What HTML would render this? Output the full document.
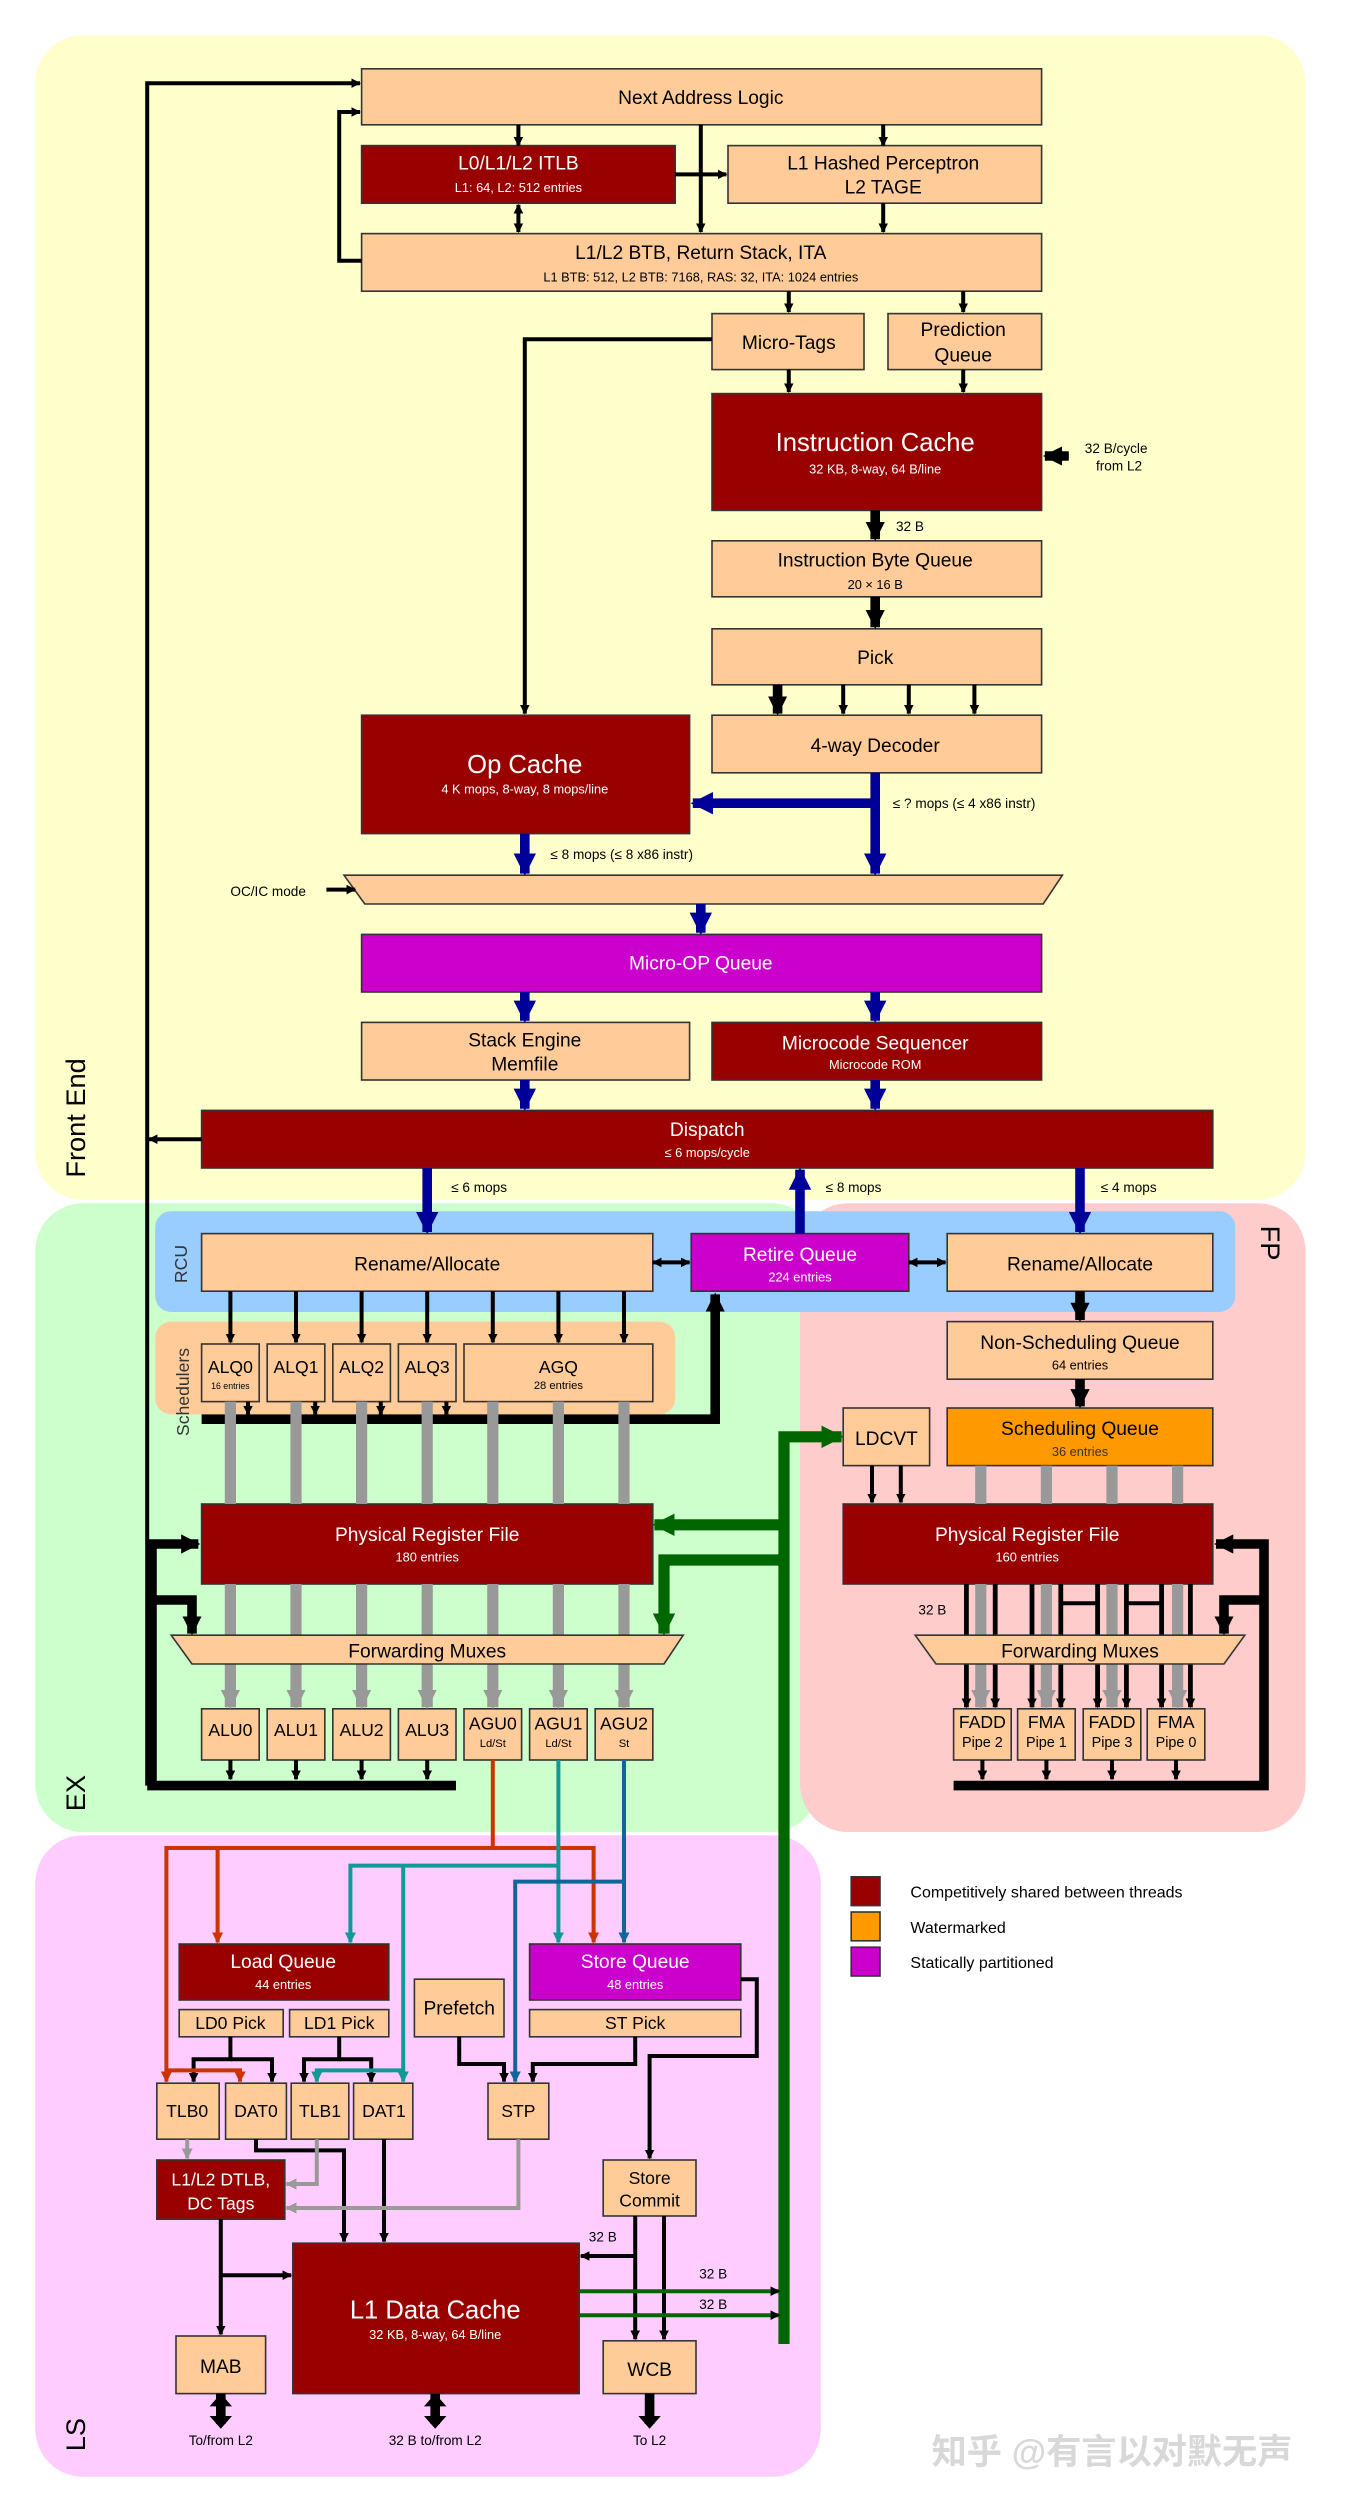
<!DOCTYPE html>
<html><head><meta charset="utf-8"><style>
html,body{margin:0;padding:0;background:#fff}
svg{display:block}
text{font-family:"Liberation Sans","Noto Sans CJK SC",sans-serif;text-anchor:middle}
</style></head><body>
<svg width="1350" height="2506" viewBox="0 0 843.75 1566.25" xmlns="http://www.w3.org/2000/svg">
<defs>
<marker id="a" viewBox="0 0 10 10" refX="9" refY="5" markerWidth="6" markerHeight="6" markerUnits="userSpaceOnUse" orient="auto-start-reverse"><path d="M0 0L10 5L0 10z" fill="#000"/></marker>
<marker id="A" viewBox="0 0 10 10" refX="9" refY="5" markerWidth="12" markerHeight="12" markerUnits="userSpaceOnUse" orient="auto-start-reverse"><path d="M0 0L10 5L0 10z" fill="#000"/></marker>
<marker id="B" viewBox="0 0 10 10" refX="9" refY="5" markerWidth="14" markerHeight="14" markerUnits="userSpaceOnUse" orient="auto"><path d="M0 0L10 5L0 10z" fill="#000099"/></marker>
<marker id="G" viewBox="0 0 10 10" refX="9" refY="5" markerWidth="14" markerHeight="14" markerUnits="userSpaceOnUse" orient="auto"><path d="M0 0L10 5L0 10z" fill="#006600"/></marker>
<marker id="Y" viewBox="0 0 10 10" refX="9" refY="5" markerWidth="12" markerHeight="12" markerUnits="userSpaceOnUse" orient="auto"><path d="M0 0L10 5L0 10z" fill="#999"/></marker>
<marker id="y" viewBox="0 0 10 10" refX="9" refY="5" markerWidth="7" markerHeight="7" markerUnits="userSpaceOnUse" orient="auto"><path d="M0 0L10 5L0 10z" fill="#999"/></marker>
<marker id="r" viewBox="0 0 10 10" refX="9" refY="5" markerWidth="7" markerHeight="7" markerUnits="userSpaceOnUse" orient="auto"><path d="M0 0L10 5L0 10z" fill="#cc3300"/></marker>
<marker id="t" viewBox="0 0 10 10" refX="9" refY="5" markerWidth="7" markerHeight="7" markerUnits="userSpaceOnUse" orient="auto"><path d="M0 0L10 5L0 10z" fill="#119999"/></marker>
<marker id="u" viewBox="0 0 10 10" refX="9" refY="5" markerWidth="7" markerHeight="7" markerUnits="userSpaceOnUse" orient="auto"><path d="M0 0L10 5L0 10z" fill="#116699"/></marker>
</defs>

<rect x="22" y="22" width="794" height="728" rx="30" fill="#ffffcc"/>
<rect x="22" y="752" width="490" height="393" rx="30" fill="#ccffcc"/>
<rect x="500" y="752" width="316" height="393" rx="30" fill="#ffcccc"/>
<rect x="22" y="1147" width="491" height="401" rx="30" fill="#ffccff"/>
<rect x="97" y="757" width="675" height="63" rx="10" fill="#99ccff"/>
<rect x="97" y="826" width="325" height="58" rx="10" fill="#ffcc99"/>

<g font-size="17">
<text transform="translate(53,736) rotate(-90)" text-anchor="start" style="text-anchor:start">Front End</text>
<text transform="translate(53,1132) rotate(-90)" style="text-anchor:start">EX</text>
<text transform="translate(53,1532) rotate(-90)" style="text-anchor:start">LS</text>
<text transform="translate(788,766) rotate(90)" style="text-anchor:start">FP</text>
</g>
<text transform="translate(117,790) rotate(-90)" font-size="11" fill="#333">RCU</text>
<text transform="translate(118,870) rotate(-90)" font-size="11" fill="#333">Schedulers</text>

<g stroke="#333" stroke-width="1">
<rect x="226" y="43" width="425" height="35" fill="#ffcc99"/>
<rect x="226" y="91" width="196" height="36" fill="#990000"/>
<rect x="455" y="91" width="196" height="36" fill="#ffcc99"/>
<rect x="226" y="146" width="425" height="36" fill="#ffcc99"/>
<rect x="445" y="196" width="95" height="35" fill="#ffcc99"/>
<rect x="555" y="196" width="96" height="35" fill="#ffcc99"/>
<rect x="445" y="246" width="206" height="73" fill="#990000"/>
<rect x="445" y="338" width="206" height="35" fill="#ffcc99"/>
<rect x="445" y="393" width="206" height="35" fill="#ffcc99"/>
<rect x="445" y="447" width="206" height="36" fill="#ffcc99"/>
<rect x="226" y="447" width="205" height="74" fill="#990000"/>
<path d="M215 547H664L652 565H228Z" fill="#ffcc99"/>
<rect x="226" y="584" width="425" height="36" fill="#cc00cc"/>
<rect x="226" y="639" width="205" height="36" fill="#ffcc99"/>
<rect x="445" y="639" width="206" height="36" fill="#990000"/>
<rect x="126" y="694" width="632" height="36" fill="#990000"/>
<rect x="126" y="771" width="282" height="36" fill="#ffcc99"/>
<rect x="432" y="771" width="136" height="36" fill="#cc00cc"/>
<rect x="592" y="771" width="166" height="36" fill="#ffcc99"/>
<rect x="126" y="840" width="36" height="36" fill="#ffcc99"/>
<rect x="167" y="840" width="36" height="36" fill="#ffcc99"/>
<rect x="208" y="840" width="36" height="36" fill="#ffcc99"/>
<rect x="249" y="840" width="36" height="36" fill="#ffcc99"/>
<rect x="290" y="840" width="118" height="36" fill="#ffcc99"/>
<rect x="592" y="826" width="166" height="36" fill="#ffcc99"/>
<rect x="592" y="880" width="166" height="36" fill="#ff9900"/>
<rect x="527" y="880" width="54" height="36" fill="#ffcc99"/>
<rect x="126" y="940" width="282" height="50" fill="#990000"/>
<rect x="527" y="940" width="231" height="50" fill="#990000"/>
<rect x="126" y="1068" width="36" height="32" fill="#ffcc99"/>
<rect x="167" y="1068" width="36" height="32" fill="#ffcc99"/>
<rect x="208" y="1068" width="36" height="32" fill="#ffcc99"/>
<rect x="249" y="1068" width="36" height="32" fill="#ffcc99"/>
<rect x="290" y="1068" width="36" height="32" fill="#ffcc99"/>
<rect x="331" y="1068" width="36" height="32" fill="#ffcc99"/>
<rect x="372" y="1068" width="36" height="32" fill="#ffcc99"/>
<rect x="596" y="1068" width="36" height="32" fill="#ffcc99"/>
<rect x="636" y="1068" width="36" height="32" fill="#ffcc99"/>
<rect x="677" y="1068" width="36" height="32" fill="#ffcc99"/>
<rect x="717" y="1068" width="36" height="32" fill="#ffcc99"/>
<rect x="112" y="1215" width="131" height="35" fill="#990000"/>
<rect x="112" y="1256" width="65" height="17" fill="#ffcc99"/>
<rect x="181" y="1256" width="62" height="17" fill="#ffcc99"/>
<rect x="331" y="1215" width="132" height="35" fill="#cc00cc"/>
<rect x="331" y="1256" width="132" height="17" fill="#ffcc99"/>
<rect x="259" y="1237" width="56" height="36" fill="#ffcc99"/>
<rect x="98" y="1302" width="39" height="35" fill="#ffcc99"/>
<rect x="141" y="1302" width="38" height="35" fill="#ffcc99"/>
<rect x="182" y="1302" width="36" height="35" fill="#ffcc99"/>
<rect x="221" y="1302" width="37" height="35" fill="#ffcc99"/>
<rect x="305" y="1302" width="38" height="35" fill="#ffcc99"/>
<rect x="98" y="1350" width="80" height="37" fill="#990000"/>
<rect x="377" y="1350" width="58" height="35" fill="#ffcc99"/>
<rect x="183" y="1402" width="179" height="94" fill="#990000"/>
<rect x="110" y="1460" width="56" height="36" fill="#ffcc99"/>
<rect x="377" y="1463" width="58" height="33" fill="#ffcc99"/>
<rect x="532" y="1173" width="18" height="18" fill="#990000"/>
<rect x="532" y="1195" width="18" height="18" fill="#ff9900"/>
<rect x="532" y="1217" width="18" height="18" fill="#cc00cc"/>
</g>

<g font-size="12" fill="#000">
<text x="438" y="65">Next Address Logic</text>
<text x="552" y="106">L1 Hashed Perceptron</text><text x="552" y="121">L2 TAGE</text>
<text x="438" y="162">L1/L2 BTB, Return Stack, ITA</text>
<text x="493" y="218">Micro-Tags</text>
<text x="602" y="210">Prediction</text><text x="602" y="226">Queue</text>
<text x="547" y="354">Instruction Byte Queue</text>
<text x="547" y="415">Pick</text>
<text x="547" y="470">4-way Decoder</text>
<text x="328" y="654">Stack Engine</text><text x="328" y="669">Memfile</text>
<text x="267" y="794">Rename/Allocate</text>
<text x="675" y="794">Rename/Allocate</text>
<text x="675" y="843">Non-Scheduling Queue</text>
<text x="675" y="897">Scheduling Queue</text>
<text x="554" y="903">LDCVT</text>
<text x="287" y="1259">Prefetch</text>
<text x="406" y="1365" font-size="11">Store</text><text x="406" y="1379" font-size="11">Commit</text>
<text x="138" y="1483">MAB</text>
<text x="406" y="1485">WCB</text>
</g>
<g font-size="11">
<text x="144" y="858">ALQ0</text><text x="185" y="858">ALQ1</text><text x="226" y="858">ALQ2</text><text x="267" y="858">ALQ3</text><text x="349" y="858">AGQ</text>
<text x="144" y="1085">ALU0</text><text x="185" y="1085">ALU1</text><text x="226" y="1085">ALU2</text><text x="267" y="1085">ALU3</text>
<text x="308" y="1081">AGU0</text><text x="349" y="1081">AGU1</text><text x="390" y="1081">AGU2</text>
<text x="614" y="1080">FADD</text><text x="654" y="1080">FMA</text><text x="695" y="1080">FADD</text><text x="735" y="1080">FMA</text>
<text x="144" y="1268">LD0 Pick</text><text x="212" y="1268">LD1 Pick</text><text x="397" y="1268">ST Pick</text>
<text x="117" y="1323">TLB0</text><text x="160" y="1323">DAT0</text><text x="200" y="1323">TLB1</text><text x="240" y="1323">DAT1</text><text x="324" y="1323">STP</text>
</g>
<g font-size="7" fill="#000">
<text x="144" y="868" font-size="5.5">16 entries</text><text x="349" y="868">28 entries</text>
<text x="308" y="1092">Ld/St</text><text x="349" y="1092">Ld/St</text><text x="390" y="1092">St</text>
<text x="614" y="1092" font-size="9">Pipe 2</text><text x="654" y="1092" font-size="9">Pipe 1</text><text x="695" y="1092" font-size="9">Pipe 3</text><text x="735" y="1092" font-size="9">Pipe 0</text>
<text x="547" y="368" font-size="8">20 × 16 B</text>
<text x="675" y="856" font-size="8">64 entries</text>
<text x="675" y="910" font-size="8" fill="#333">36 entries</text>
</g>
<g fill="#fff">
<text x="324" y="106" font-size="12">L0/L1/L2 ITLB</text><text x="324" y="120" font-size="8">L1: 64, L2: 512 entries</text>
<text x="547" y="282" font-size="16">Instruction Cache</text><text x="547" y="296" font-size="8">32 KB, 8-way, 64 B/line</text>
<text x="328" y="483" font-size="16">Op Cache</text><text x="328" y="496" font-size="8">4 K mops, 8-way, 8 mops/line</text>
<text x="438" y="606" font-size="12">Micro-OP Queue</text>
<text x="547" y="656" font-size="12">Microcode Sequencer</text><text x="547" y="668" font-size="8">Microcode ROM</text>
<text x="442" y="710" font-size="12">Dispatch</text><text x="442" y="723" font-size="8">≤ 6 mops/cycle</text>
<text x="500" y="788" font-size="12">Retire Queue</text><text x="500" y="801" font-size="8">224 entries</text>
<text x="267" y="963" font-size="12">Physical Register File</text><text x="267" y="976" font-size="8">180 entries</text>
<text x="642" y="963" font-size="12">Physical Register File</text><text x="642" y="976" font-size="8">160 entries</text>
<text x="177" y="1230" font-size="12">Load Queue</text><text x="177" y="1243" font-size="8">44 entries</text>
<text x="397" y="1230" font-size="12">Store Queue</text><text x="397" y="1243" font-size="8">48 entries</text>
<text x="138" y="1366" font-size="11">L1/L2 DTLB,</text><text x="138" y="1381" font-size="11">DC Tags</text>
<text x="272" y="1449" font-size="16">L1 Data Cache</text><text x="272" y="1462" font-size="8">32 KB, 8-way, 64 B/line</text>
</g>
<text x="438" y="176" font-size="8">L1 BTB: 512, L2 BTB: 7168, RAS: 32, ITA: 1024 entries</text>

<g font-size="8.5">
<text x="678" y="283" style="text-anchor:start">32 B/cycle</text><text x="685" y="294" style="text-anchor:start">from L2</text>
<text x="560" y="332" style="text-anchor:start">32 B</text>
<text x="558" y="505" style="text-anchor:start">≤ ? mops (≤ 4 x86 instr)</text>
<text x="344" y="537" style="text-anchor:start">≤ 8 mops (≤ 8 x86 instr)</text>
<text x="144" y="560" style="text-anchor:start">OC/IC mode</text>
<text x="282" y="745" style="text-anchor:start">≤ 6 mops</text>
<text x="516" y="745" style="text-anchor:start">≤ 8 mops</text>
<text x="688" y="745" style="text-anchor:start">≤ 4 mops</text>
<text x="574" y="1009" style="text-anchor:start">32 B</text>
<text x="368" y="1401" style="text-anchor:start">32 B</text>
<text x="437" y="1424" style="text-anchor:start">32 B</text>
<text x="437" y="1443" style="text-anchor:start">32 B</text>
<text x="138" y="1528">To/from L2</text>
<text x="272" y="1528">32 B to/from L2</text>
<text x="406" y="1528">To L2</text>
<text x="569" y="1186" style="text-anchor:start" font-size="10">Competitively shared between threads</text>
<text x="569" y="1208" style="text-anchor:start" font-size="10">Watermarked</text>
<text x="569" y="1230" style="text-anchor:start" font-size="10">Statically partitioned</text>
</g>
<text x="695" y="1540" font-size="22" fill="#d8d8d8" font-weight="bold">知乎 @有言以对默无声</text>

<g stroke="#000" stroke-width="2.5" fill="none" marker-end="url(#a)">
<path d="M92 1116V52H225"/>
<path d="M226 163H212V70H225"/>
<path d="M324 78V91"/><path d="M552 78V91"/><path d="M438 78V145"/>
<path d="M422 109H454"/>
<path d="M324 128V145" marker-start="url(#a)"/>
<path d="M552 127V145"/>
<path d="M493 182V195"/><path d="M602 182V195"/>
<path d="M493 231V245"/><path d="M602 231V245"/>
<path d="M445 212H328V446"/>
<path d="M527 428V446"/><path d="M568 428V446"/><path d="M609 428V446"/>
<path d="M204 556H222"/>
<path d="M126 712H93"/>
<path d="M408 789H431" marker-start="url(#a)"/>
<path d="M568 789H591" marker-start="url(#a)"/>
<path d="M144 807V839"/><path d="M185 807V839"/><path d="M226 807V839"/><path d="M267 807V839"/><path d="M308 807V839"/><path d="M349 807V839"/><path d="M390 807V839"/>
<path d="M155 876V884"/><path d="M197 876V884"/><path d="M238 876V884"/><path d="M279 876V884"/>
<path d="M545 916V939"/><path d="M563 916V939"/>
<path d="M144 1100V1112"/><path d="M185 1100V1112"/><path d="M226 1100V1112"/><path d="M267 1100V1112"/>
<path d="M614 1100V1112"/><path d="M654 1100V1112"/><path d="M695 1100V1112"/><path d="M735 1100V1112"/>
<path d="M144 1273V1287H121V1301"/><path d="M144 1287H170V1301"/>
<path d="M212 1273V1287H190V1301"/><path d="M212 1287H232V1301"/>
<path d="M287 1273V1290H315V1301"/>
<path d="M397 1273V1290H333V1301"/>
<path d="M463 1237H473V1285H406V1349"/>
<path d="M160 1337V1344H215V1401"/>
<path d="M240 1337V1401"/>
<path d="M138 1387V1459"/><path d="M138 1422H182"/>
<path d="M397 1385V1462"/><path d="M415 1385V1462"/>
<path d="M397 1410H363"/>
</g>
<g stroke="#000" stroke-width="3" marker-end="url(#a)">
<path d="M604 990V1067"/><path d="M622 990V1067"/><path d="M645 990V1067"/><path d="M663 990V1067"/>
<path d="M686 990V1067"/><path d="M704 990V1067"/><path d="M726 990V1067"/><path d="M744 990V1067"/>
</g>
<g stroke="#000" stroke-width="2.5" fill="none">
<path d="M663 1012V1002H686V1012"/><path d="M704 1012V1002H726V1012"/>
</g>
<g stroke="#000" stroke-width="6" fill="none" marker-end="url(#A)">
<path d="M668 285H653"/>
<path d="M547 319V337"/>
<path d="M547 373V392"/>
<path d="M486 428V446"/>
<path d="M675 807V825"/><path d="M675 862V879"/>
<path d="M126 887H447V809"/>
<path d="M285 1116H95V965H124"/>
<path d="M95 1000H120V1021"/>
<path d="M596 1116H790V965H760"/>
<path d="M790 1000H765V1021"/>
</g>
<path d="M138 1496V1515M272 1496V1515M406 1496V1515" stroke="#000" stroke-width="6"/>
<path d="M131 1504L138 1496L145 1504ZM131 1510L138 1518L145 1510ZM265 1504L272 1496L279 1504ZM265 1510L272 1518L279 1510ZM399 1510L406 1518L413 1510Z"/>
<g stroke="#000099" stroke-width="6" fill="none" marker-end="url(#B)">
<path d="M547 483V546"/>
<path d="M547 502H433"/>
<path d="M328 521V546"/>
<path d="M438 565V583"/>
<path d="M328 620V638"/><path d="M547 620V638"/>
<path d="M328 675V693"/><path d="M547 675V693"/>
<path d="M267 730V770"/><path d="M500 771V731"/><path d="M675 730V770"/>
</g>
<g stroke="#999" stroke-width="7" fill="none">
<path d="M144 876V940M185 876V940M226 876V940M267 876V940M308 876V940M349 876V940M390 876V940"/>
<path d="M613 916V940M654 916V940M695 916V940M736 916V940"/>
</g>
<g stroke="#999" stroke-width="7" fill="none" marker-end="url(#Y)">
<path d="M144 990V1067"/><path d="M185 990V1067"/><path d="M226 990V1067"/><path d="M267 990V1067"/><path d="M308 990V1067"/><path d="M349 990V1067"/><path d="M390 990V1067"/>
<path d="M613 990V1067"/><path d="M654 990V1067"/><path d="M695 990V1067"/><path d="M736 990V1067"/>
</g>
<g stroke="#999" stroke-width="2.5" fill="none" marker-end="url(#y)">
<path d="M117 1337V1349"/>
<path d="M198 1337V1365H179"/>
<path d="M324 1337V1380H179"/>
</g>
<g stroke="#006600" stroke-width="7" fill="none" marker-end="url(#G)">
<path d="M490 1465V898H526"/>
<path d="M490 953H409"/>
<path d="M490 975H415V1021"/>
</g>
<g stroke="#006600" stroke-width="2.5" fill="none" marker-end="url(#a)">
<path d="M362 1432H487"/><path d="M362 1447H487"/>
</g>
<g stroke="#cc3300" stroke-width="2.5" fill="none" marker-end="url(#r)">
<path d="M308 1100V1155H104V1301"/>
<path d="M136 1155V1214"/>
<path d="M308 1155H371V1214"/>
<path d="M104 1294H150V1301"/>
</g>
<g stroke="#119999" stroke-width="2.5" fill="none" marker-end="url(#t)">
<path d="M349 1100V1214"/>
<path d="M349 1166H219V1214"/>
<path d="M252 1166V1301"/>
<path d="M252 1294H198V1301"/>
</g>
<g stroke="#116699" stroke-width="2.5" fill="none" marker-end="url(#u)">
<path d="M390 1100V1214"/>
<path d="M390 1176H322V1301"/>
</g>

<!-- forwarding muxes on top of connectors -->
<g stroke="#333" stroke-width="1" fill="#ffcc99">
<path d="M107 1022H427L415 1040H120Z"/>
<path d="M572 1022H778L765 1040H585Z"/>
</g>
<g font-size="12">
<text x="267" y="1036">Forwarding Muxes</text>
<text x="675" y="1036">Forwarding Muxes</text>
</g>
</svg>
</body></html>
